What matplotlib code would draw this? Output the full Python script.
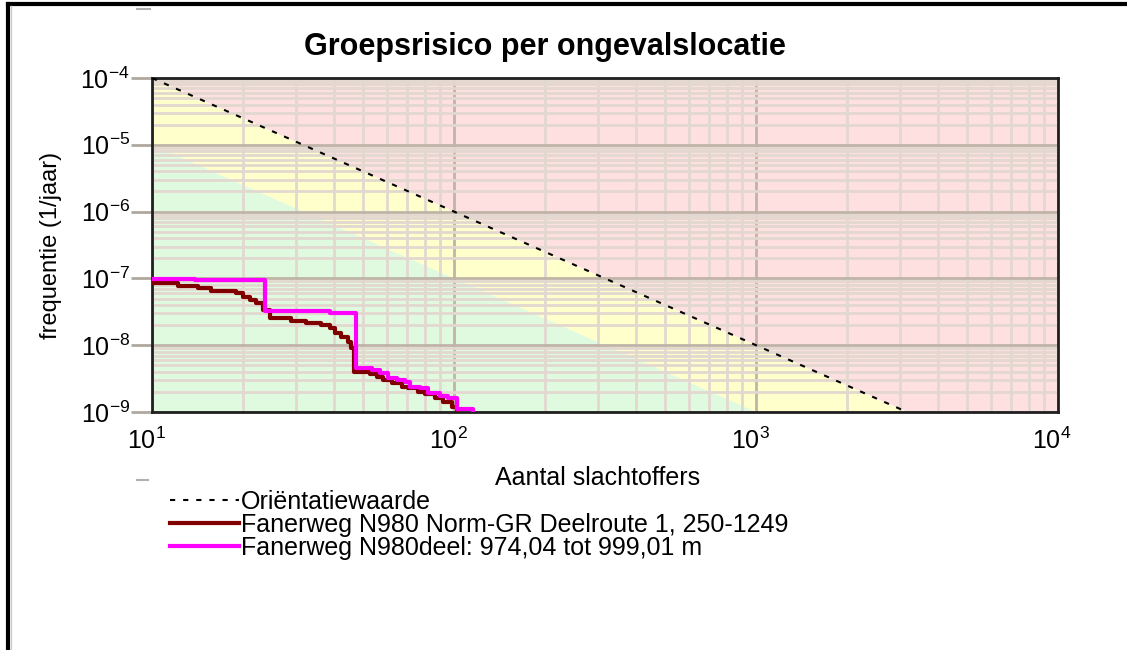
#!/usr/bin/env python3
"""
Groepsrisico per ongevalslocatie - FN-curve with orientation value and zones.
"""
import matplotlib
matplotlib.use('Agg')
import matplotlib.pyplot as plt
import matplotlib.transforms as mtransforms
from matplotlib.lines import Line2D

plt.rcParams['font.family'] = ['Liberation Sans', 'DejaVu Sans']
plt.rcParams['mathtext.fontset'] = 'custom'
plt.rcParams['mathtext.rm'] = 'Liberation Sans'

# ── Data ────────────────────────────────────────────────────────────────────
# orientation value (OW) line, endpoints only
ow_n = [10, 10000]
ow_f = [1e-4, 1e-10]
# lower boundary of the yellow zone (0.1 x OW)
ow01_f = [1e-5, 1e-11]

# Fanerweg N980 Norm-GR Deelroute 1, 250-1249 (step curve)
route_n = [10, 12.2, 14.2, 15.7, 19.0, 20.0, 21.1, 22.1, 23.3, 24.6, 28.9,
           32.4, 36.3, 38.8, 40.4, 42.3, 44.6, 45.6, 46.7, 52.7, 55.6, 58.2,
           62.4, 67.3, 70.5, 76.0, 80.2, 86.5, 92.0, 98.5, 102.4]
route_f = [8.5e-8, 7.7e-8, 7.2e-8, 6.5e-8, 6.0e-8, 5.3e-8, 4.75e-8, 4.3e-8,
           3.4e-8, 2.55e-8, 2.3e-8, 2.15e-8, 2.0e-8, 1.8e-8, 1.52e-8,
           1.33e-8, 1.12e-8, 9.1e-9, 4.0e-9, 3.7e-9, 3.35e-9, 3.0e-9, 2.7e-9,
           2.37e-9, 2.29e-9, 2.0e-9, 1.86e-9, 1.62e-9, 1.41e-9, 1.19e-9, 5e-10]

# Fanerweg N980deel: 974,04 tot 999,01 m (step curve)
deel_n = [10, 13.9, 23.7, 27.5, 38.8, 47.3, 53.5, 56.9, 60.4, 64.7, 68.8,
          71.5, 77.2, 82.0, 89.9, 95.5, 102.4, 115.6]
deel_f = [9.9e-8, 9.5e-8, 3.3e-8, 3.2e-8, 3.03e-8, 4.55e-9, 4.25e-9, 3.85e-9,
          3.23e-9, 3.0e-9, 2.8e-9, 2.37e-9, 2.29e-9, 1.92e-9, 1.74e-9,
          1.62e-9, 1.1e-9, 5e-10]

labels = ['Oriëntatiewaarde',
          'Fanerweg N980 Norm-GR Deelroute 1, 250-1249',
          'Fanerweg N980deel: 974,04 tot 999,01 m']

x_ticks = [10, 100, 1000, 10000]
x_ticklabels = [r'$10^{1}$', r'$10^{2}$', r'$10^{3}$', r'$10^{4}$']
y_ticks = [1e-9, 1e-8, 1e-7, 1e-6, 1e-5, 1e-4]
y_ticklabels = [r'$10^{-9}$', r'$10^{-8}$', r'$10^{-7}$', r'$10^{-6}$',
                r'$10^{-5}$', r'$10^{-4}$']

# ── Figure ──────────────────────────────────────────────────────────────────
W, H = 1127, 650
fig = plt.figure(figsize=(W / 100, H / 100), dpi=100)
fig.patch.set_facecolor('white')
ax = fig.add_axes([152 / W, 1 - 412 / H, (1058 - 152) / W, (412 - 78) / H])

ax.set_xscale('log')
ax.set_yscale('log')
ax.set_xlim(10, 1e4)
ax.set_ylim(1e-9, 1e-4)

# zones
ax.fill_between(ow_n, ow_f, [1, 1], color='#ffe0e0', lw=0, zorder=0)
ax.fill_between(ow_n, ow01_f, ow_f, color='#ffffcc', lw=0, zorder=0)
ax.fill_between(ow_n, [1e-15, 1e-15], ow01_f, color='#e0fae0', lw=0, zorder=0)

# grid
ax.grid(True, which='minor', color='#e2d8d0', lw=2, zorder=1)
ax.grid(True, which='major', color='#c0b4a8', lw=2, zorder=1)
ax.set_axisbelow(True)

ax.plot(ow_n, ow_f, color='black', ls=(0, (2.5, 3.8)), lw=1.5, zorder=3,
        label=labels[0])
ax.step(route_n, route_f, where='post', color='#800000', lw=3, zorder=4,
        label=labels[1])
ax.step(deel_n, deel_f, where='post', color='#ff00ff', lw=3, zorder=5,
        label=labels[2])

for sp in ax.spines.values():
    sp.set_linewidth(2)
    sp.set_color('#202020')

ax.set_xticks(x_ticks)
ax.set_xticklabels(x_ticklabels)
ax.set_yticks(y_ticks)
ax.set_yticklabels(y_ticklabels)
ax.tick_params(axis='x', which='both', length=0, labelsize=18, pad=11)
ax.tick_params(axis='y', which='major', length=15, width=2, color='#b0a8a0',
               labelsize=18, pad=1)
ax.tick_params(axis='y', which='minor', length=0)
shift = mtransforms.ScaledTranslation(-6 / 100, 0, fig.dpi_scale_trans)
for lab in ax.get_xticklabels():
    lab.set_transform(lab.get_transform() + shift)

ax.set_xlabel('Aantal slachtoffers', fontsize=18)
ax.xaxis.set_label_coords((598 - 152) / 906, (412 - 466) / 334)
ax.set_ylabel('frequentie (1/jaar)', fontsize=17)
ax.yaxis.set_label_coords((62 - 152) / 906, 0.5)

fig.text(545 / W, 1 - 47 / H, 'Groepsrisico per ongevalslocatie',
         fontsize=22, fontweight='bold', ha='center', va='center')

fig.legend(loc='upper left', bbox_to_anchor=(170 / W, 1 - 490 / H),
           frameon=False, fontsize=18, handlelength=2.75, handletextpad=0.1,
           labelspacing=-0.05, borderaxespad=0, borderpad=0)

# outer frame (top and left only) and little grey marks
fig.add_artist(Line2D([8 / W, 1], [1 - 4 / H, 1 - 4 / H], color='black', lw=3))
fig.add_artist(Line2D([8 / W, 8 / W], [0, 1 - 4 / H], color='black', lw=3))
fig.add_artist(Line2D([11 / W, 11 / W], [0, 1 - 6 / H], color='#d0ccc4', lw=1))
fig.add_artist(Line2D([137 / W, 150 / W], [1 - 9 / H, 1 - 9 / H],
                      color='#b0b0b0', lw=1.5))
fig.add_artist(Line2D([137 / W, 148 / W], [1 - 480 / H, 1 - 480 / H],
                      color='#b0b0b0', lw=1.5))

fig.savefig('out.png', dpi=100)
print('[+] Saved: out.png')
